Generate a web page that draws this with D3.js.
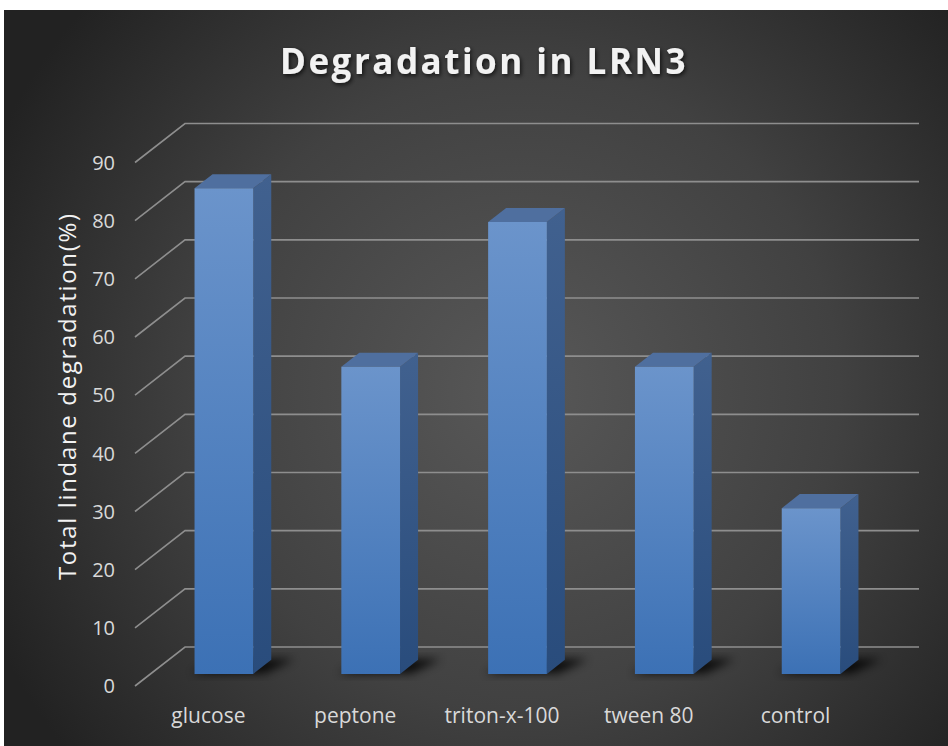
<!DOCTYPE html>
<html>
<head>
<meta charset="utf-8">
<script src="https://cdn.jsdelivr.net/npm/d3@7"></script>
<style>
  html, body { margin: 0; padding: 0; background: #ffffff; }
  svg { display: block; }
</style>
</head>
<body>
<svg id="chart" width="948" height="746"></svg>
<script>
// Chart data
const categories = ["glucose", "peptone", "triton-x-100", "tween 80", "control"];
const degradation = [83.5, 52.8, 77.7, 52.8, 28.5];
const tickValues = [0, 10, 20, 30, 40, 50, 60, 70, 80, 90];
const chartTitle = "Degradation in LRN3";
const yAxisTitle = "Total lindane degradation(%)";

const svg = d3.select("#chart");
const W = 948, H = 746;

// Oblique projection for the 3D look: depth z in [0,1], front to back
const DX = 50, DY = 39;
const proj = (x, y, z) => [x + z * DX, y - z * DY];

const x = d3.scaleBand().domain(categories).range([135, 869]).paddingInner(0.6).paddingOuter(0.3);
const y = d3.scaleLinear().domain([0, 90]).range([686, 162.5]);

const defs = svg.append("defs");

// Background radial gradient
const bg = defs.append("radialGradient").attr("id", "bg")
  .attr("gradientUnits", "userSpaceOnUse")
  .attr("cx", 520).attr("cy", 390).attr("r", 580);
bg.append("stop").attr("offset", "0%").attr("stop-color", "#585858");
bg.append("stop").attr("offset", "55%").attr("stop-color", "#414141");
bg.append("stop").attr("offset", "100%").attr("stop-color", "#222222");

const front = defs.append("linearGradient").attr("id", "front").attr("x1", 0).attr("y1", 0).attr("x2", 0).attr("y2", 1);
front.append("stop").attr("offset", "0%").attr("stop-color", "#6b94cb");
front.append("stop").attr("offset", "100%").attr("stop-color", "#3c71b5");

const side = defs.append("linearGradient").attr("id", "side").attr("x1", 0).attr("y1", 0).attr("x2", 0).attr("y2", 1);
side.append("stop").attr("offset", "0%").attr("stop-color", "#41618f");
side.append("stop").attr("offset", "100%").attr("stop-color", "#294c7c");

defs.append("filter").attr("id", "blur").attr("x", "-50%").attr("y", "-50%").attr("width", "200%").attr("height", "200%")
  .append("feGaussianBlur").attr("stdDeviation", 5);

const ts = defs.append("filter").attr("id", "tshadow").attr("x", "-10%").attr("y", "-30%").attr("width", "120%").attr("height", "160%");
ts.append("feDropShadow").attr("dx", 1.5).attr("dy", 2).attr("stdDeviation", 2).attr("flood-color", "#000").attr("flood-opacity", 0.7);

// Chart area background
svg.append("rect").attr("x", 4).attr("y", 10).attr("width", W - 4).attr("height", H - 10).attr("fill", "url(#bg)");

// Gridlines: diagonal on the side wall, horizontal on the back wall
const grid = svg.append("g").attr("stroke", "#8e8e8e").attr("stroke-width", 1.6).attr("fill", "none");
tickValues.forEach(v => {
  const p0 = proj(135, y(v), 0);
  const p1 = proj(135, y(v), 1);
  const p2 = proj(869, y(v), 1);
  grid.append("path").attr("d", d3.line()([p0, p1, p2]));
});

// Tick labels
svg.append("g").selectAll("text").data(tickValues).join("text")
  .attr("x", 115).attr("y", d => y(d)).attr("dy", "0.36em")
  .attr("text-anchor", "end")
  .attr("font-family", "Open Sans, sans-serif").attr("font-size", 20)
  .attr("fill", "#d9d9d9").text(d => d);

// Bars
const z0 = 0.31, z1 = 0.67;
const bars = svg.append("g").selectAll("g").data(categories.map((c, i) => ({ c, v: degradation[i] }))).join("g");

// Floor shadow behind each bar
bars.append("path")
  .attr("d", d => {
    const xl = x(d.c), xr = xl + x.bandwidth();
    const pts = [proj(xl - 4, y(0), z0 + 0.02), proj(xr + 10, y(0), z0 + 0.02), proj(xr + 22, y(0), z1 + 0.02), proj(xl + 8, y(0), z1)];
    return d3.line()(pts) + "Z";
  })
  .attr("fill", "#000").attr("opacity", 0.85).attr("filter", "url(#blur)");

// Side face
bars.append("path")
  .attr("d", d => {
    const xr = x(d.c) + x.bandwidth();
    return d3.line()([proj(xr, y(0), z0), proj(xr, y(0), z1), proj(xr, y(d.v), z1), proj(xr, y(d.v), z0)]) + "Z";
  })
  .attr("fill", "url(#side)");

// Top face
bars.append("path")
  .attr("d", d => {
    const xl = x(d.c), xr = xl + x.bandwidth();
    return d3.line()([proj(xl, y(d.v), z0), proj(xr, y(d.v), z0), proj(xr, y(d.v), z1), proj(xl, y(d.v), z1)]) + "Z";
  })
  .attr("fill", "#4f6f9f");

// Front face
bars.append("path")
  .attr("d", d => {
    const xl = x(d.c), xr = xl + x.bandwidth();
    return d3.line()([proj(xl, y(0), z0), proj(xr, y(0), z0), proj(xr, y(d.v), z0), proj(xl, y(d.v), z0)]) + "Z";
  })
  .attr("fill", "url(#front)");

// Category labels, centred on the front plane of each band
svg.append("g").selectAll("text").data(categories).join("text")
  .attr("x", d => x(d) + x.bandwidth() / 2)
  .attr("y", 723)
  .attr("text-anchor", "middle")
  .attr("font-family", "Open Sans, sans-serif").attr("font-size", 21)
  .attr("fill", "#d9d9d9").text(d => d);

// Axis title
svg.append("text")
  .attr("transform", "translate(76,397) rotate(-90)")
  .attr("text-anchor", "middle")
  .attr("font-family", "Open Sans, sans-serif").attr("font-size", 24)
  .attr("textLength", 366).attr("lengthAdjust", "spacing")
  .attr("fill", "#f2f2f2").text(yAxisTitle);

// Chart title
svg.append("text")
  .attr("x", 484).attr("y", 74)
  .attr("text-anchor", "middle")
  .attr("font-family", "Open Sans, sans-serif").attr("font-weight", "bold").attr("font-size", 35)
  .attr("letter-spacing", 2.5)
  .attr("fill", "#f2f2f2").attr("filter", "url(#tshadow)")
  .text(chartTitle);
</script>
</body>
</html>
